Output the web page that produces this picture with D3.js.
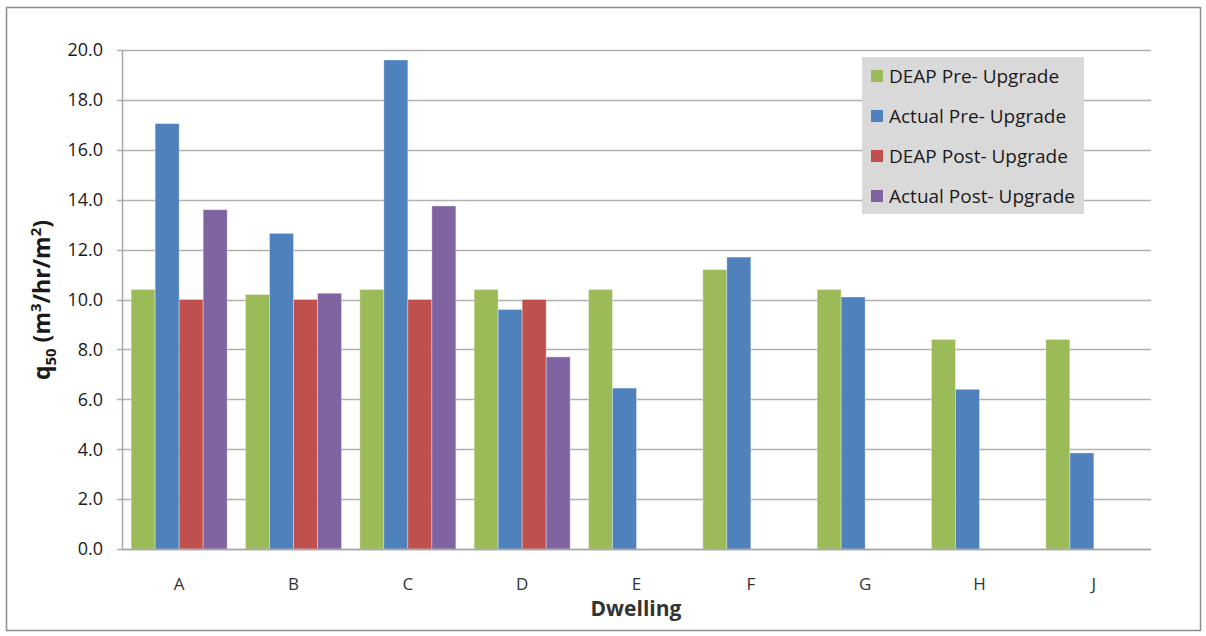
<!DOCTYPE html>
<html><head><meta charset="utf-8">
<script src="https://cdn.jsdelivr.net/npm/d3@7"></script>
<style>html,body{margin:0;padding:0;background:#fff;} svg{display:block;font-family:"Open Sans","Liberation Sans",sans-serif;}</style>
</head><body>
<svg id="chart" width="1206" height="636"></svg>
<script>
const categories = ["A","B","C","D","E","F","G","H","J"];
const seriesNames = ["DEAP Pre- Upgrade","Actual Pre- Upgrade","DEAP Post- Upgrade","Actual Post- Upgrade"];
const deapPre   = [10.4, 10.2, 10.4, 10.4, 10.4, 11.2, 10.4, 8.4, 8.4];
const actualPre = [17.05, 12.65, 19.6, 9.6, 6.45, 11.7, 10.1, 6.4, 3.85];
const deapPost  = [10.0, 10.0, 10.0, 10.0, null, null, null, null, null];
const actualPost= [13.6, 10.25, 13.75, 7.7, null, null, null, null, null];
const yTicks = [0,2,4,6,8,10,12,14,16,18,20];
const colors = ["#9BBB59","#4F81BD","#C0504D","#8064A2"];
const seriesValues = [deapPre, actualPre, deapPost, actualPost];

const svg = d3.select("#chart");
const pLeft = 122, pRight = 1151, pTop = 50, pBottom = 549;

svg.append("rect").attr("x",6.5).attr("y",7.5).attr("width",1194).attr("height",623)
  .attr("fill","#fff").attr("stroke","#8c8c8c").attr("stroke-width",1.5);

const x = d3.scaleBand().domain(categories).range([pLeft,pRight]).paddingInner(0.16).paddingOuter(0.08);
const xs = d3.scaleBand().domain(d3.range(4)).range([0,x.bandwidth()]);
const y = d3.scaleLinear().domain([0,20]).range([pBottom,pTop]);

// gridlines
svg.append("g").selectAll("line").data(yTicks).join("line")
  .attr("x1",pLeft-5).attr("x2",pRight).attr("y1",d=>Math.round(y(d))+0.5).attr("y2",d=>Math.round(y(d))+0.5)
  .attr("stroke","#b0b0b0").attr("stroke-width",1.5);

// y axis line
svg.append("line").attr("x1",pLeft+0.5).attr("x2",pLeft+0.5).attr("y1",pTop).attr("y2",pBottom)
  .attr("stroke","#a6a6a6").attr("stroke-width",1.5);

// y tick labels
svg.append("g").selectAll("text").data(yTicks).join("text")
  .attr("x",103).attr("y",d=>y(d)).attr("dy","0.35em").attr("text-anchor","end")
  .attr("font-size",18).attr("fill","#1a1a1a").text(d=>d.toFixed(1));

// bars
const data = [];
categories.forEach((c,i)=>seriesValues.forEach((s,j)=>{ if(s[i]!=null) data.push({c,j,v:s[i]}); }));
svg.append("g").selectAll("rect").data(data).join("rect")
  .attr("x",d=>x(d.c)+xs(d.j)).attr("width",xs.bandwidth())
  .attr("y",d=>y(d.v)).attr("height",d=>y(0)-y(d.v))
  .attr("fill",d=>colors[d.j]).attr("stroke","rgba(255,255,255,0.35)").attr("stroke-width",1);

// x axis line
svg.append("line").attr("x1",pLeft).attr("x2",pRight).attr("y1",pBottom+0.5).attr("y2",pBottom+0.5)
  .attr("stroke","#a6a6a6").attr("stroke-width",1.5);

// category labels
svg.append("g").selectAll("text").data(categories).join("text")
  .attr("x",d=>x(d)+x.bandwidth()/2).attr("y",584).attr("dy","0.35em").attr("text-anchor","middle")
  .attr("font-size",17).attr("fill","#333").text(d=>d);

// x title
svg.append("text").attr("x",636).attr("y",609).attr("dy","0.35em").attr("text-anchor","middle")
  .attr("font-size",21).attr("font-weight","bold").attr("fill","#333").text("Dwelling");

// y title
const yt = svg.append("text").attr("transform","translate(50,300) rotate(-90)").attr("text-anchor","middle")
  .attr("font-size",23).attr("font-weight","bold").attr("fill","#1a1a1a");
yt.append("tspan").text("q");
yt.append("tspan").attr("font-size",15).attr("dy",6).text("50");
yt.append("tspan").attr("dy",-6).text(" (m");
yt.append("tspan").attr("font-size",15).attr("dy",-9).text("3");
yt.append("tspan").attr("dy",9).text("/hr/m");
yt.append("tspan").attr("font-size",15).attr("dy",-9).text("2");
yt.append("tspan").attr("dy",9).text(")");

// legend
const lg = svg.append("g");
lg.append("rect").attr("x",862).attr("y",57).attr("width",222).attr("height",157).attr("fill","#d9d9d9");
seriesNames.forEach((n,i)=>{
  const cy = 76 + i*40;
  lg.append("rect").attr("x",871).attr("y",cy-6).attr("width",12).attr("height",12).attr("fill",colors[i]);
  lg.append("text").attr("x",889).attr("y",cy).attr("dy","0.35em").attr("font-size",19).attr("fill","#1a1a1a").text(n);
});
</script>
</body></html>
